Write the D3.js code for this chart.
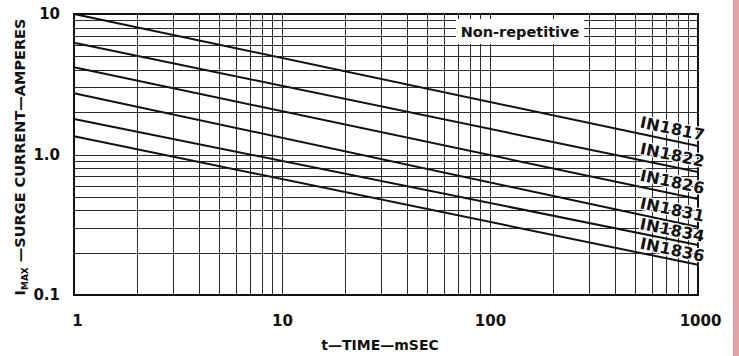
<!DOCTYPE html>
<html>
<head>
<meta charset="utf-8">
<script src="https://cdn.jsdelivr.net/npm/d3@7"></script>
<style>
  body { margin: 0; background: #fff; }
  svg { display: block; font-family: "DejaVu Sans", sans-serif; font-weight: bold; }
</style>
</head>
<body>
<div id="chart"></div>
<script>
// surge current vs time, log-log, straight lines read at 1 ms and 1000 ms
const devices = ["IN1817", "IN1822", "IN1826", "IN1831", "IN1834", "IN1836"];
const times = [1, 1000];
const amps1817 = [10, 1.15];
const amps1822 = [6.25, 0.75];
const amps1826 = [4.18, 0.482];
const amps1831 = [2.73, 0.305];
const amps1834 = [1.79, 0.227];
const amps1836 = [1.35, 0.164];
const xTickValues = [1, 10, 100, 1000];
const xTickLabels = ["1", "10", "100", "1000"];
const yTickValues = [0.1, 1, 10];
const yTickLabels = ["0.1", "1.0", "10"];

const series = [amps1817, amps1822, amps1826, amps1831, amps1834, amps1836].map((a, i) => ({
  name: devices[i],
  points: times.map((t, j) => ({ t: t, a: a[j] }))
}));

const width = 739, height = 356;
const margin = { top: 14, right: 40, bottom: 61, left: 74 };

const svg = d3.select("#chart").append("svg")
  .attr("width", width)
  .attr("height", height);

// pink paper edge on the right
svg.append("rect")
  .attr("x", 733).attr("y", 0)
  .attr("width", 6).attr("height", height)
  .attr("fill", "#e0a3a8");

const x = d3.scaleLog().domain([1, 1000]).range([margin.left, width - margin.right - 1]);
const y = d3.scaleLog().domain([0.1, 10]).range([height - margin.bottom, margin.top]);

// grid
const xGrid = [];
const yGrid = [];
[1, 10, 100].forEach(d => { for (let k = 1; k <= 9; k++) xGrid.push(d * k); });
[0.1, 1].forEach(d => { for (let k = 1; k <= 9; k++) yGrid.push(d * k); });

const grid = svg.append("g").attr("stroke", "#2a2a2a").attr("stroke-width", 1);
grid.selectAll("line.v").data(xGrid).join("line")
  .attr("class", "v")
  .attr("x1", d => Math.round(x(d)) + 0.5).attr("x2", d => Math.round(x(d)) + 0.5)
  .attr("y1", y(10)).attr("y2", y(0.1));
grid.selectAll("line.h").data(yGrid).join("line")
  .attr("class", "h")
  .attr("y1", d => Math.round(y(d)) + 0.5).attr("y2", d => Math.round(y(d)) + 0.5)
  .attr("x1", x(1)).attr("x2", x(1000));

// "Non-repetitive" box hides the grid behind it
svg.append("rect")
  .attr("x", 456).attr("y", 19)
  .attr("width", 128).attr("height", 25)
  .attr("fill", "#fff");
svg.append("text")
  .attr("x", 520).attr("y", 37)
  .attr("text-anchor", "middle")
  .attr("font-size", 14.5)
  .attr("fill", "#111")
  .text("Non-repetitive");

// frame
svg.append("rect")
  .attr("x", x(1)).attr("y", y(10))
  .attr("width", x(1000) - x(1)).attr("height", y(0.1) - y(10))
  .attr("fill", "none")
  .attr("stroke", "#111")
  .attr("stroke-width", 2);

// curves
const line = d3.line().x(d => x(d.t)).y(d => y(d.a));
svg.append("g").selectAll("path").data(series).join("path")
  .attr("d", d => line(d.points))
  .attr("fill", "none")
  .attr("stroke", "#111")
  .attr("stroke-width", 2);

// curve labels, set along the line near the right edge
svg.append("g").selectAll("text").data(series).join("text")
  .attr("transform", (d, i) => {
    const p0 = d.points[0], p1 = d.points[1];
    const ang = Math.atan2(y(p1.a) - y(p0.a), x(p1.t) - x(p0.t)) * 180 / Math.PI;
    const k = Math.log(900 / p0.t) / Math.log(p1.t / p0.t);
    const a = Math.exp(Math.log(p0.a) + k * (Math.log(p1.a) - Math.log(p0.a)));
    const lift = i >= 4 ? 1 : 3;
    return `translate(${x(900) + 15},${y(a) - lift}) rotate(${ang})`;
  })
  .attr("text-anchor", "end")
  .attr("font-size", 16)
  .attr("letter-spacing", 0.3)
  .attr("fill", "#111")
  .attr("stroke", "#fff")
  .attr("stroke-width", 2.5)
  .attr("paint-order", "stroke")
  .text(d => d.name);

// x axis labels
const xAxis = d3.axisBottom(x)
  .tickValues(xTickValues)
  .tickFormat((d, i) => xTickLabels[i])
  .tickSize(0)
  .tickPadding(20);
const gx = svg.append("g")
  .attr("transform", `translate(0,${y(0.1)})`)
  .call(xAxis);
gx.select(".domain").remove();
gx.selectAll("text")
  .attr("font-size", 15)
  .attr("font-family", "DejaVu Sans, sans-serif")
  .attr("font-weight", "bold")
  .attr("fill", "#111");
gx.selectAll("text").filter(d => d === 1).attr("dx", 3);
gx.selectAll("text").filter(d => d === 1000).attr("dx", 2);

// y axis labels
const yAxis = d3.axisLeft(y)
  .tickValues(yTickValues)
  .tickFormat((d, i) => yTickLabels[i])
  .tickSize(0)
  .tickPadding(14);
const gy = svg.append("g")
  .attr("transform", `translate(${x(1)},0)`)
  .call(yAxis);
gy.select(".domain").remove();
gy.selectAll("text")
  .attr("font-size", 15)
  .attr("font-family", "DejaVu Sans, sans-serif")
  .attr("font-weight", "bold")
  .attr("fill", "#111");

// axis titles
svg.append("text")
  .attr("x", 380).attr("y", 350)
  .attr("text-anchor", "middle")
  .attr("font-size", 14)
  .attr("fill", "#111")
  .text("t\u2014TIME\u2014mSEC");

const yTitle = svg.append("text")
  .attr("transform", "translate(25,157) rotate(-90)")
  .attr("text-anchor", "middle")
  .attr("font-size", 14.5)
  .attr("fill", "#111");
yTitle.append("tspan").text("I");
yTitle.append("tspan").attr("font-size", 9).attr("dy", 3).text("MAX");
yTitle.append("tspan").attr("dy", -3).text(" \u2014SURGE CURRENT\u2014AMPERES");
</script>
</body>
</html>
